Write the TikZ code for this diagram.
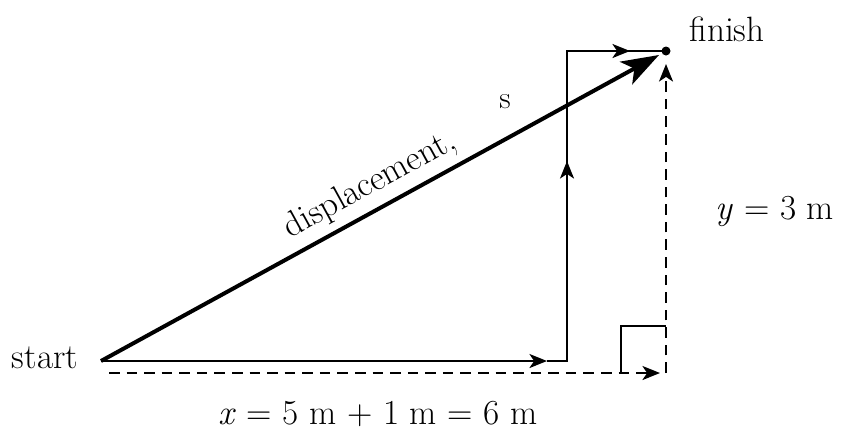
\documentclass[tikz,border=0pt]{standalone}
\usepackage{fontspec}
\usetikzlibrary{arrows.meta}
\begin{document}
\begin{tikzpicture}[x=0.03cm,y=-0.03cm,>={Stealth[length=15pt,width=12pt,inset=4pt]},
	font=\fontsize{30}{36}\selectfont,
	vec/.style={line width=1.7pt},
	dashvec/.style={line width=1.7pt,dash pattern=on 9pt off 6pt},
	bigvec/.style={line width=3.4pt,-{Stealth[length=32pt,width=22pt,inset=8pt]}}]
	\useasboundingbox (0,0) rectangle (843,434);
	\coordinate (S) at (101,361);
	\coordinate (C) at (567,361);
	\coordinate (T) at (567,51);
	\coordinate (F) at (666,51);
	\coordinate (D1) at (109,373);
	\coordinate (D2) at (666,373);
	\coordinate (R) at (621,326);
	% solid path
	\draw[vec,->] (S)--(547,361);
	\draw[vec] (547,361)--(C)--(T)--(F);
	\draw[vec,->] (C)--(567,161);
	\draw[vec,->] (T)--(630,51);
	% dashed path
	\draw[dashvec,->] (D1)--(660,373);
	\draw[dashvec,->] (D2)--(666,64);
	\draw[vec] (R|-D2)--(R)--(R-|D2);
	% displacement
	\draw[bigvec] (S)--(659,55);
	\fill (F) circle (4.5);
	% labels
	\node (start) at (45,358) {start};
	\node (finish) at (727,29) {finish};
	\node (ylab) at (775,211) {\textit{y} = 3 m};
	\node (xlab) at (378,414) {\textit{x} = 5 m + 1 m = 6 m};
	\node[rotate=28.8] (disp) at (370,185) {displacement,};
	\node (s) at (505,102) {\fontsize{27}{32}\selectfont s};
\end{tikzpicture}
\end{document}
